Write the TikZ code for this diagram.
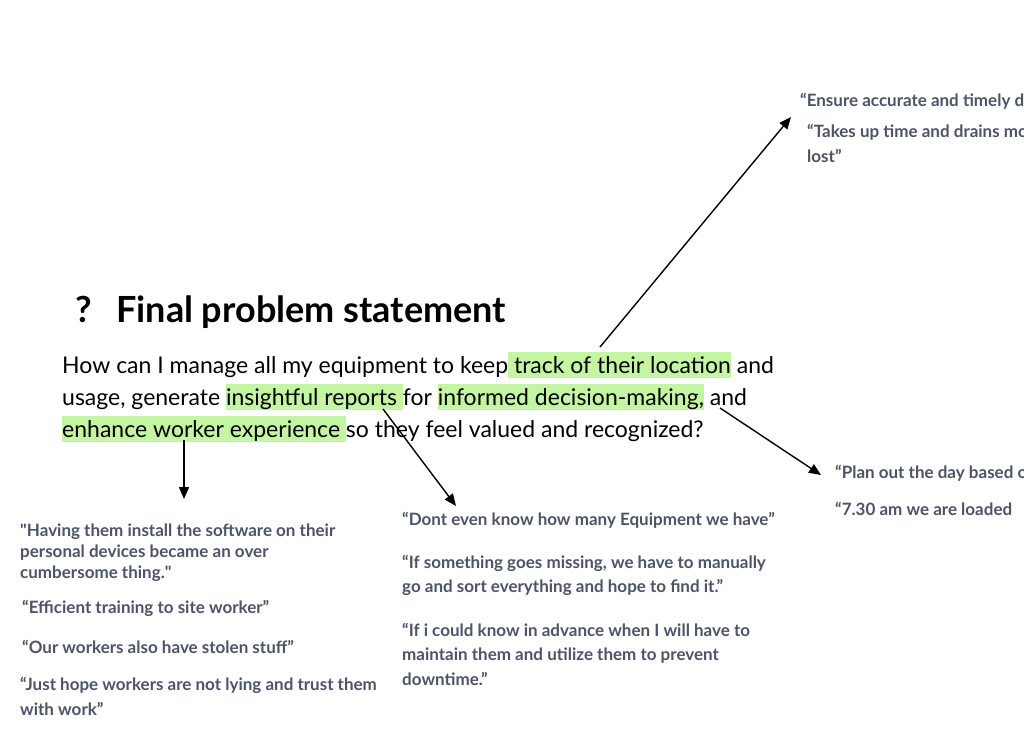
\documentclass[tikz,border=0pt]{standalone}
\usepackage{fontspec}
\setmainfont{Lato}
\newfontfamily\rawq{Lato}[Ligatures=ResetAll]
\usetikzlibrary{positioning, calc, arrows.meta}

\definecolor{quotegrey}{HTML}{4E5468}
\definecolor{hlgreen}{HTML}{C4F5A3}
\newcommand{\hlbox}[1]{{\setlength{\fboxsep}{0pt}\colorbox{hlgreen}{\rule[-5pt]{0pt}{26pt}#1}}}
\newcommand{\straightq}{{\rawq\symbol{"22}}}

\tikzset{
  title/.style={font=\fontsize{36}{40}\selectfont\bfseries, anchor=base west, inner sep=0pt},
  body/.style={font=\fontsize{23}{32}\selectfont, anchor=base west, inner sep=0pt},
  quote/.style={font=\fontsize{17}{21}\selectfont\bfseries, text=quotegrey, anchor=base west, inner sep=0pt, align=left},
  arrowline/.style={-{Triangle[length=12pt,width=10pt]}, line width=1.4pt, black}
}

\begin{document}
\begin{tikzpicture}[x=1pt, y=-1pt]
    % page
    \fill[white] (0,0) rectangle (1024,742);
    \useasboundingbox (0,0) rectangle (1024,742);
    \clip (0,0) rectangle (1024,742);

    % Heading
    \node[title] (qmark) at (75,322) {?};
    \node[title] (heading) at (116,322) {Final problem statement};

    % Problem statement
    \node[body] (line1) at (62,373) {How can I manage all my equipment to keep\hlbox{ track of their location} and};
    \node[body] (line2) at (62,405) {usage, generate \hlbox{insightful reports }for \hlbox{informed decision-making,} and};
    \node[body] (line3) at (62,437) {\hlbox{enhance worker experience }so they feel valued and recognized?};

    % Quotes top right (multi-line nodes sit on their last line)
    \node[quote] (qEnsure) at (800,106) {“Ensure accurate and timely d};
    \node[quote, font=\fontsize{17}{25}\selectfont\bfseries] (qTakes) at (807,162) {“Takes up time and drains mo\\lost”};

    % Quotes right
    \node[quote] (qPlan) at (835,478) {“Plan out the day based o};
    \node[quote] (qLoaded) at (835,515) {“7.30 am we are loaded};

    % Quotes left
    \node[quote] (qInstall) at (20,578) {\straightq Having them install the software on their\\personal devices became an over\\cumbersome thing.\straightq};
    \node[quote] (qTraining) at (22,613) {“Efficient training to site worker”};
    \node[quote] (qStolen) at (22,653) {“Our workers also have stolen stuff”};
    \node[quote, font=\fontsize{17}{25}\selectfont\bfseries] (qTrust) at (20,715) {“Just hope workers are not lying and trust them\\with work”};

    % Quotes middle
    \node[quote] (qCount) at (402,525) {“Dont even know how many Equipment we have”};
    \node[quote, font=\fontsize{17}{24}\selectfont\bfseries] (qMissing) at (402,592) {“If something goes missing, we have to manually\\go and sort everything and hope to find it.”};
    \node[quote, font=\fontsize{17}{24.5}\selectfont\bfseries] (qAdvance) at (402,685) {“If i could know in advance when I will have to\\maintain them and utilize them to prevent\\downtime.”};

    % Arrows
    \coordinate (fromTrack) at (600,347);
    \coordinate (toTakes) at (791,117);
    \coordinate (fromWorker) at (184,440);
    \coordinate (toInstall) at (184,499);
    \coordinate (fromReports) at (383,409);
    \coordinate (toCount) at (456,506);
    \coordinate (fromDecision) at (720,408);
    \coordinate (toPlan) at (821,475);

    \draw[arrowline] (fromTrack) -- (toTakes);
    \draw[arrowline] (fromWorker) -- (toInstall);
    \draw[arrowline] (fromReports) -- (toCount);
    \draw[arrowline] (fromDecision) -- (toPlan);
\end{tikzpicture}
\end{document}
